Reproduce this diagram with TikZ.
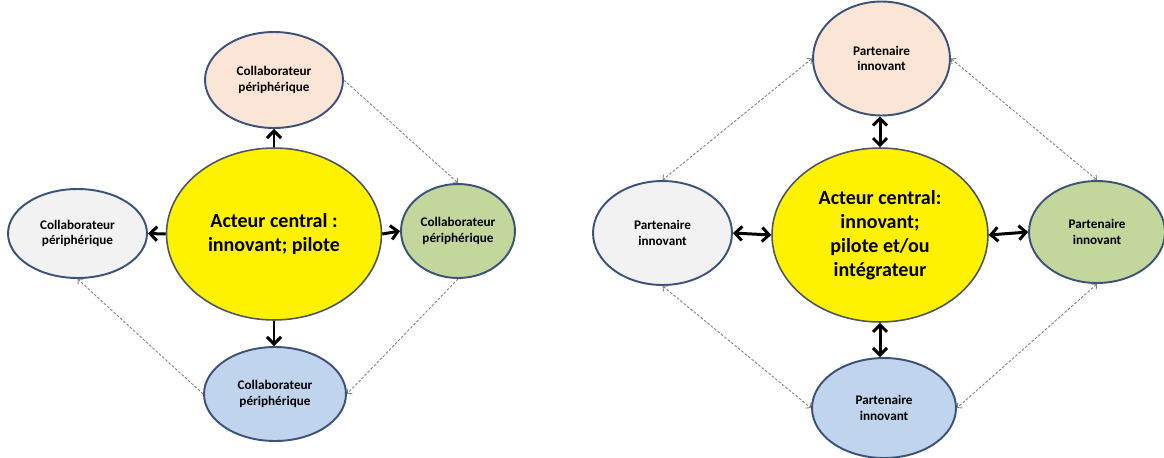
\documentclass[tikz,border=0pt]{standalone}
\usepackage{fontspec}
\setmainfont{Carlito}
\usepackage{xcolor}
\usetikzlibrary{shapes.geometric,arrows.meta}

\definecolor{peach}{RGB}{251,229,214}
\definecolor{palegrey}{RGB}{242,242,242}
\definecolor{sage}{RGB}{195,214,155}
\definecolor{paleblue}{RGB}{192,212,238}
\definecolor{rim}{RGB}{59,83,120}
\definecolor{centrerim}{RGB}{75,85,100}

\tikzset{
  actor/.style={ellipse, draw=rim, line width=1.1pt, inner sep=0pt, align=center,
    font=\bfseries\fontsize{7.5}{9}\selectfont},
  centre/.style={actor, draw=centrerim, line width=0.9pt, fill=yellow,
    font=\bfseries\fontsize{11.4}{13.7}\selectfont},
  link/.style={line width=1.7pt, -{Straight Barb[length=4pt,width=8pt]}},
  twolink/.style={line width=1.7pt, {Straight Barb[length=4pt,width=8pt]}-{Straight Barb[length=4pt,width=8pt]}},
  weak/.style={gray, line width=0.5pt, dash pattern=on 1.5pt off 1pt, -{Straight Barb[length=2pt,width=4pt]}},
  twoweak/.style={weak, {Straight Barb[length=2pt,width=4pt]}-{Straight Barb[length=2pt,width=4pt]}},
}

\begin{document}
\begin{tikzpicture}[x=0.02cm, y=-0.02cm]
\useasboundingbox (0,0) rectangle (1164,457);

% pilot with collaborators
\node[centre, minimum width=4.3cm, minimum height=3.44cm] (c1) at (274,234) {Acteur central :\\innovant; pilote};
\node[actor, fill=peach, minimum width=2.76cm, minimum height=1.92cm] (t1) at (274,80) {Collaborateur\\périphérique};
\node[actor, fill=palegrey, minimum width=2.78cm, minimum height=1.78cm] (l1) at (77.5,233.5) {Collaborateur\\périphérique};
\node[actor, fill=sage, minimum width=2.28cm, minimum height=1.88cm] (r1) at (458,231) {Collaborateur\\périphérique};
\node[actor, fill=paleblue, minimum width=2.84cm, minimum height=1.88cm] (b1) at (275,394) {Collaborateur\\périphérique};

\draw[link] (c1.north) -- (c1.north |- t1.south);
\draw[link] (c1.west) -- (l1.east);
\draw[link] (c1.east) -- (r1.west);
\draw[link] (c1.south) -- (c1.south |- b1.north);
\draw[weak] (t1.east) -- (r1.north);
\draw[weak] (r1.south) -- (b1.east);
\draw[weak] (b1.west) -- (l1.south);

% integrator with partners
\node[centre, minimum width=4.32cm, minimum height=3.48cm] (c2) at (880,235) {Acteur central:\\innovant;\\pilote et/ou\\intégrateur};
\node[actor, fill=peach, minimum width=2.74cm, minimum height=2.28cm] (t2) at (881.5,58.5) {Partenaire\\innovant};
\node[actor, fill=palegrey, minimum width=2.78cm, minimum height=2.08cm] (l2) at (662.5,233) {Partenaire\\innovant};
\node[actor, fill=sage, minimum width=2.72cm, minimum height=2.04cm] (r2) at (1097,232) {Partenaire\\innovant};
\node[actor, fill=paleblue, minimum width=2.88cm, minimum height=2cm] (b2) at (884,408) {Partenaire\\innovant};

\draw[twolink] (c2.north) -- (c2.north |- t2.south);
\draw[twolink] (c2.west) -- (l2.east);
\draw[twolink] (c2.east) -- (r2.west);
\draw[twolink] (c2.south) -- (c2.south |- b2.north);
\draw[twoweak] (t2.west) -- (l2.north);
\draw[twoweak] (t2.east) -- (r2.north);
\draw[twoweak] (l2.south) -- (b2.west);
\draw[twoweak] (r2.south) -- (b2.east);
\end{tikzpicture}
\end{document}
